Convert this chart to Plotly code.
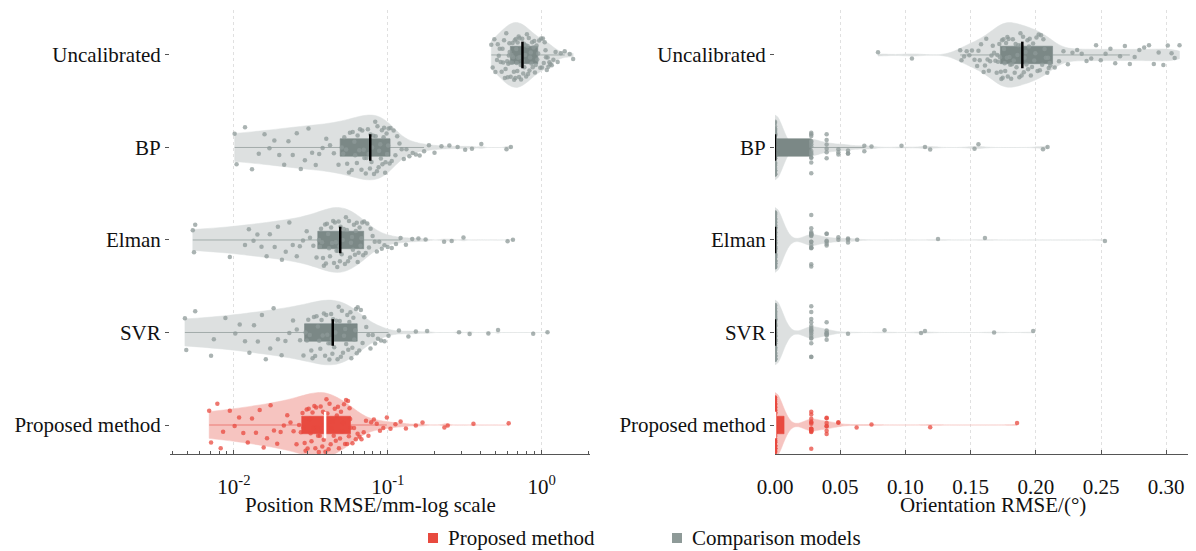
import numpy as np
import plotly.graph_objects as go

categories = ["Proposed method", "SVR", "Elman", "BP", "Uncalibrated"]

# ---- Position RMSE (mm), left panel ----
pos_uncal = [0.47, 0.48, 0.492, 0.50, 0.512, 0.518, 0.526, 0.533, 0.541, 0.549, 0.556, 0.561, 0.569, 0.576, 0.582, 0.588,
             0.596, 0.601, 0.606, 0.611, 0.616, 0.619, 0.623, 0.628, 0.636, 0.641, 0.647, 0.652, 0.659, 0.662, 0.668,
             0.674, 0.679, 0.683, 0.688, 0.694, 0.697, 0.703, 0.708, 0.712, 0.718, 0.722, 0.729, 0.734, 0.741, 0.747,
             0.752, 0.758, 0.766, 0.771, 0.779, 0.786, 0.792, 0.801, 0.809, 0.815, 0.824, 0.832, 0.841, 0.849, 0.857,
             0.866, 0.874, 0.885, 0.894, 0.903, 0.914, 0.925, 0.936, 0.948, 0.962, 0.978, 0.991, 1.003, 1.018, 1.031,
             1.045, 1.058, 1.066, 1.079, 1.092, 1.105, 1.121, 1.138, 1.162, 1.19, 1.23, 1.27, 1.33, 1.41, 1.52, 1.60]
pos_bp = [0.0101, 0.0104, 0.0118, 0.0131, 0.0145, 0.0158, 0.0170, 0.0183, 0.0197, 0.0212, 0.0226, 0.0241, 0.0256,
          0.0272, 0.0289, 0.0305, 0.0322, 0.0340, 0.0358, 0.0377, 0.0398, 0.0421, 0.0446, 0.0478,
          0.0502, 0.0513, 0.0521, 0.0536, 0.0544, 0.0559, 0.0567, 0.0583, 0.0591, 0.0606, 0.0613, 0.0629, 0.0636,
          0.0652, 0.0659, 0.0674, 0.0682, 0.0697, 0.0704, 0.0719, 0.0727, 0.0742, 0.0751, 0.0765,
          0.0772, 0.0783, 0.0790, 0.0805, 0.0813, 0.0828, 0.0834, 0.0849, 0.0856, 0.0871, 0.0878, 0.0893, 0.0901,
          0.0915, 0.0922, 0.0938, 0.0945, 0.0960, 0.0966, 0.0981, 0.0988, 0.1003, 0.1010, 0.1027,
          0.104, 0.106, 0.109, 0.112, 0.115, 0.119, 0.123, 0.127, 0.132, 0.138, 0.145, 0.152, 0.161, 0.172, 0.185,
          0.201, 0.223, 0.251, 0.284, 0.318, 0.352, 0.405, 0.590, 0.630]
pos_elman = [0.0054, 0.0055, 0.0056, 0.0094, 0.0118, 0.0125, 0.0134, 0.0142, 0.0151, 0.0163, 0.0171, 0.0184, 0.0193,
             0.0205, 0.0217, 0.0229, 0.0241, 0.0256, 0.0268, 0.0281, 0.0297, 0.0312, 0.0328, 0.0344,
             0.0357, 0.0362, 0.0368, 0.0373, 0.0379, 0.0384, 0.0391, 0.0396, 0.0402, 0.0409, 0.0415, 0.0421, 0.0428,
             0.0434, 0.0441, 0.0447, 0.0453, 0.0459, 0.0464, 0.0469, 0.0474, 0.0479, 0.0484, 0.0488,
             0.0493, 0.0501, 0.0509, 0.0517, 0.0526, 0.0534, 0.0542, 0.0551, 0.0559, 0.0568, 0.0576, 0.0585, 0.0593,
             0.0602, 0.0611, 0.0619, 0.0628, 0.0637, 0.0646, 0.0655, 0.0664, 0.0673, 0.0682, 0.0691,
             0.0702, 0.0718, 0.0735, 0.0754, 0.0773, 0.0796, 0.0822, 0.0848, 0.0879, 0.0913, 0.0951, 0.0998, 0.106,
             0.113, 0.121, 0.131, 0.144, 0.158, 0.176, 0.232, 0.26, 0.31, 0.60, 0.65]
pos_svr = [0.0048, 0.0049, 0.0056, 0.0071, 0.0074, 0.0088, 0.0102, 0.0109, 0.0118, 0.0126, 0.0135, 0.0143, 0.0152,
           0.0161, 0.0172, 0.0181, 0.0193, 0.0204, 0.0216, 0.0229, 0.0242, 0.0256, 0.0269, 0.0283,
           0.0292, 0.0298, 0.0304, 0.0311, 0.0318, 0.0324, 0.0331, 0.0337, 0.0344, 0.0351, 0.0358, 0.0364, 0.0371,
           0.0377, 0.0384, 0.0391, 0.0398, 0.0404, 0.0411, 0.0417, 0.0423, 0.0428, 0.0432, 0.0436,
           0.0441, 0.0448, 0.0456, 0.0463, 0.0471, 0.0479, 0.0487, 0.0495, 0.0503, 0.0511, 0.0519, 0.0528, 0.0536,
           0.0545, 0.0553, 0.0562, 0.0571, 0.0579, 0.0588, 0.0597, 0.0605, 0.0614, 0.0621, 0.0628,
           0.0637, 0.0652, 0.0668, 0.0685, 0.0703, 0.0724, 0.0747, 0.0771, 0.0798, 0.0827, 0.0862, 0.0903, 0.0951,
           0.101, 0.118, 0.136, 0.152, 0.18, 0.29, 0.34, 0.45, 0.52, 0.88, 1.09]
pos_proposed = [0.0069, 0.0071, 0.0078, 0.0082, 0.0085, 0.0094, 0.0101, 0.0108, 0.0115, 0.0123, 0.0131, 0.0139,
                0.0147, 0.0156, 0.0164, 0.0173, 0.0182, 0.0191, 0.0201, 0.0211, 0.0222, 0.0233, 0.0244, 0.0255,
                0.0265, 0.0272,
                0.0279, 0.0283, 0.0288, 0.0292, 0.0297, 0.0301, 0.0306, 0.0311, 0.0315, 0.0319, 0.0324, 0.0329,
                0.0333, 0.0338, 0.0342, 0.0347, 0.0352, 0.0356, 0.0361, 0.0366, 0.0371, 0.0375, 0.0379, 0.0383,
                0.0386, 0.0389,
                0.0393, 0.0399, 0.0405, 0.0412, 0.0418, 0.0425, 0.0432, 0.0438, 0.0445, 0.0452, 0.0459, 0.0466,
                0.0474, 0.0481, 0.0489, 0.0496, 0.0504, 0.0512, 0.0519, 0.0527, 0.0535, 0.0543, 0.0551, 0.0558,
                0.0564, 0.0569,
                0.0575, 0.0589, 0.0603, 0.0619, 0.0636, 0.0654, 0.0674, 0.0697, 0.0721, 0.0748, 0.0779, 0.0811,
                0.0847, 0.0889, 0.0934, 0.0985, 0.104, 0.112, 0.121, 0.131, 0.152, 0.168, 0.233, 0.245, 0.36, 0.61]

# ---- Orientation RMSE (deg), right panel ----
ori_uncal = [0.079, 0.105, 0.142, 0.143, 0.145, 0.147, 0.149, 0.151, 0.153, 0.155, 0.156, 0.157, 0.158, 0.160, 0.161,
             0.162, 0.163, 0.164, 0.165, 0.166, 0.167, 0.168, 0.169, 0.170, 0.1705, 0.171, 0.172, 0.1725,
             0.1732, 0.1736, 0.1741, 0.1746, 0.1752, 0.1756, 0.1761, 0.1765, 0.1772, 0.1778, 0.1782, 0.1785, 0.1791,
             0.1798, 0.1804, 0.1811, 0.1817, 0.1824, 0.1831, 0.1838, 0.1845, 0.1852, 0.1859, 0.1866, 0.1874, 0.1882,
             0.1887, 0.1891,
             0.1902, 0.1908, 0.1914, 0.1921, 0.1928, 0.1936, 0.1941, 0.1948, 0.1953, 0.1962, 0.1971, 0.1979, 0.1988,
             0.1996, 0.2005, 0.2013, 0.2022, 0.2031, 0.2040, 0.2049, 0.2058, 0.2067, 0.2077, 0.2088, 0.2094, 0.2099,
             0.2106, 0.2112,
             0.2145, 0.2178, 0.2212, 0.2246, 0.2281, 0.2317, 0.2352, 0.2389, 0.2425, 0.2462, 0.2498, 0.2535, 0.2572,
             0.2609, 0.2646, 0.2683, 0.2721, 0.2758, 0.2794, 0.2831, 0.2868, 0.2905, 0.2942, 0.2978, 0.3012, 0.3041,
             0.3065, 0.3102]
# quantised groups: distinct values and how many samples sit on each
ori_bp_vals = [0.0, 0.0278, 0.0396, 0.0486, 0.056, 0.0685, 0.074, 0.097, 0.115, 0.119, 0.153, 0.156, 0.2055, 0.209]
ori_bp_counts = [60, 14, 6, 3, 3, 2, 1, 1, 1, 1, 1, 1, 1, 1]
ori_elman_vals = [0.0, 0.0278, 0.0396, 0.0486, 0.056, 0.063, 0.125, 0.161, 0.253]
ori_elman_counts = [100, 16, 6, 2, 3, 1, 1, 1, 1]
ori_svr_vals = [0.0, 0.0278, 0.0396, 0.056, 0.084, 0.112, 0.115, 0.168, 0.198]
ori_svr_counts = [95, 16, 7, 1, 1, 1, 1, 1, 1]
ori_prop_vals = [0.0, 0.0278, 0.0396, 0.0486, 0.0626, 0.074, 0.119, 0.1856]
ori_prop_counts = [82, 14, 7, 2, 1, 1, 1, 1]

legend_labels = ["Proposed method", "Comparison models"]

RED = "#E84A3F"
RED_FILL = "#F6C4C0"
GREY = "#8E9A98"
GREY_FILL = "#DDE0E0"
GREY_BOX = "#7B8886"
FONT = "Liberation Serif"
TXT = "#111111"

# left panel: density estimated on the raw values, axis drawn in log scale
left_data = {
    "Uncalibrated": (pos_uncal, None),
    "BP": (pos_bp, None),
    "Elman": (pos_elman, None),
    "SVR": (pos_svr, None),
    "Proposed method": (pos_proposed, None),
}
right_data = {
    "Uncalibrated": (ori_uncal, 0.008),
    "BP": (list(np.repeat(ori_bp_vals, ori_bp_counts)), 0.006),
    "Elman": (list(np.repeat(ori_elman_vals, ori_elman_counts)), 0.006),
    "SVR": (list(np.repeat(ori_svr_vals, ori_svr_counts)), 0.006),
    "Proposed method": (list(np.repeat(ori_prop_vals, ori_prop_counts)), 0.006),
}

fig = go.Figure()


def add_group(cat, vals, bw, xa, ya):
    prop = cat == "Proposed method"
    pc = RED if prop else GREY
    fc = RED_FILL if prop else GREY_FILL
    bc = RED if prop else GREY_BOX
    v = np.asarray(vals, dtype=float)
    kw = {} if bw is None else {"bandwidth": bw}
    fig.add_trace(go.Violin(
        x=v, y=[cat] * len(v), orientation="h", xaxis=xa, yaxis=ya,
        width=0.7, scalemode="width", spanmode="hard",
        fillcolor=fc, line=dict(color=fc, width=0.5),
        points="all", pointpos=0, jitter=0.85,
        marker=dict(color=pc, size=4.5, opacity=0.75, line=dict(width=0)),
        box=dict(visible=True, width=0.27, fillcolor=bc, line=dict(color=bc, width=0.6)),
        meanline=dict(visible=False), showlegend=False, hoverinfo="x", **kw,
    ))
    med = float(np.median(v))
    fig.add_trace(go.Scatter(
        x=[med], y=[cat], xaxis=xa, yaxis=ya, mode="markers", showlegend=False,
        marker=dict(symbol="line-ns", size=19, line=dict(width=2.5, color="white" if prop else "black")),
        hoverinfo="skip",
    ))


for cat in categories[::-1]:
    vals, bw = left_data[cat]
    add_group(cat, vals, bw, "x", "y")
for cat in categories[::-1]:
    vals, bw = right_data[cat]
    add_group(cat, vals, bw, "x2", "y2")

W, H = 1196, 551


def px(sx):
    return sx / W


def py(sy):
    return (H - sy) / H


ydom = [py(454), py(10)]
yrange = [-0.3135, 4.486]

major_vals = [0.01, 0.1, 1.0]
major_txt = ["10<sup>-2</sup>", "10<sup>-1</sup>", "10<sup>0</sup>"]
minor_vals = [m * 10.0 ** e for e in (-3, -2, -1, 0) for m in range(2, 10)]

axis_common = dict(showline=True, linecolor="#555555", linewidth=1, ticks="inside", ticklen=4,
                   tickcolor="#555555", showgrid=True, gridcolor="#E0E0E0", griddash="dot", gridwidth=1,
                   zeroline=False, tickfont=dict(family=FONT, size=21, color=TXT),
                   ticklabelstandoff=14, automargin=False)
yaxis_common = dict(domain=ydom, range=yrange, type="category", categoryorder="array", categoryarray=categories,
                    showline=False, ticks="outside", ticklen=4, tickcolor="#555555", showgrid=False,
                    zeroline=False, tickfont=dict(family=FONT, size=21, color=TXT), automargin=False)

# legend drawn inside the page: squares + labels (kept fully inside the 551px height)
legend_sq_x = [428, 672]
legend_colors = [RED, GREY]
shapes = [dict(type="rect", xref="paper", yref="paper", x0=px(sx), x1=px(sx + 10), y0=py(543), y1=py(533),
               fillcolor=c, line=dict(width=0)) for sx, c in zip(legend_sq_x, legend_colors)]
legend_ann = [dict(text=t, x=px(sx + 19), y=0, xref="paper", yref="paper", showarrow=False,
                   xanchor="left", yanchor="bottom", borderpad=0,
                   font=dict(family=FONT, size=21, color=TXT))
              for t, sx in zip(legend_labels, legend_sq_x)]

fig.update_layout(
    width=W, height=H, margin=dict(l=0, r=0, t=0, b=0),
    paper_bgcolor="white", plot_bgcolor="white",
    violinmode="overlay", showlegend=False,
    font=dict(family=FONT, size=21, color=TXT),
    xaxis=dict(type="log", domain=[px(170), px(590)], range=[-2.4156, 0.3136], tickvals=major_vals,
               ticktext=major_txt,
               minor=dict(tickvals=minor_vals, ticks="inside", ticklen=3, tickcolor="#555555", showgrid=False),
               anchor="y", **axis_common),
    yaxis=dict(anchor="x", **yaxis_common),
    xaxis2=dict(domain=[px(775), px(1188)], range=[0, 0.3167],
                tickvals=[0, 0.05, 0.1, 0.15, 0.2, 0.25, 0.3], tickformat=".2f", anchor="y2", **axis_common),
    yaxis2=dict(anchor="x2", **yaxis_common),
    shapes=shapes,
    annotations=[
        dict(text="Position RMSE/mm-log scale", x=px(370), y=py(505), xref="paper", yref="paper",
             showarrow=False, xanchor="center", yanchor="middle", font=dict(family=FONT, size=21, color=TXT)),
        dict(text="Orientation RMSE/(°)", x=px(993), y=py(505), xref="paper", yref="paper",
             showarrow=False, xanchor="center", yanchor="middle", font=dict(family=FONT, size=21, color=TXT)),
    ] + legend_ann,
)

fig.write_html("out.html", config={"displayModeBar": False},
               post_script="document.body.style.margin='0';document.body.style.overflow='hidden';")
